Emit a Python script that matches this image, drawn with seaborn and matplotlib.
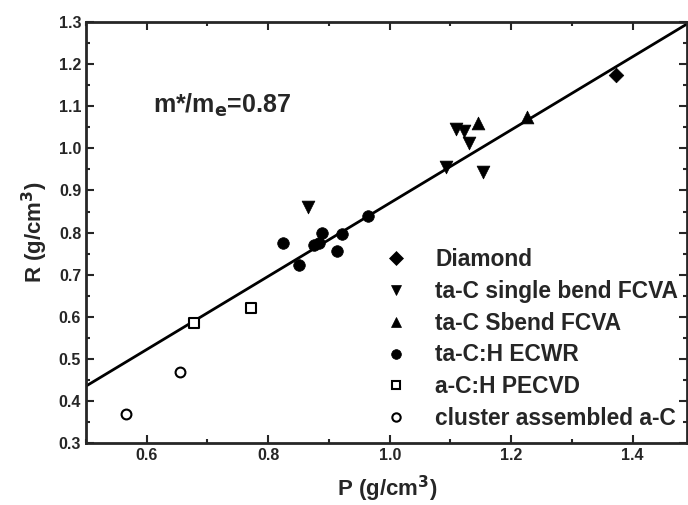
import matplotlib
matplotlib.use("Agg")
import matplotlib.pyplot as plt
from matplotlib.lines import Line2D
from matplotlib.ticker import MultipleLocator
import seaborn as sns
import pandas as pd

# data
diamond_p = [1.373]
diamond_r = [1.174]

single_bend_p = [0.866, 1.092, 1.109, 1.122, 1.130, 1.153]
single_bend_r = [0.861, 0.956, 1.046, 1.041, 1.013, 0.944]

sbend_p = [1.145, 1.226]
sbend_r = [1.060, 1.074]

ecwr_p = [0.825, 0.850, 0.875, 0.883, 0.888, 0.914, 0.922, 0.965]
ecwr_r = [0.775, 0.723, 0.770, 0.775, 0.799, 0.756, 0.796, 0.839]

pecvd_p = [0.677, 0.772]
pecvd_r = [0.585, 0.621]

cluster_p = [0.566, 0.655]
cluster_r = [0.369, 0.469]

# fitted line R = 0.87 P
fit_p = [0.5, 1.5]
fit_r = [0.435, 1.305]

groups = [
    ("Diamond", diamond_p, diamond_r, "D", True, 55),
    ("ta-C single bend FCVA", single_bend_p, single_bend_r, "v", True, 85),
    ("ta-C Sbend FCVA", sbend_p, sbend_r, "^", True, 85),
    ("ta-C:H ECWR", ecwr_p, ecwr_r, "o", True, 70),
    ("a-C:H PECVD", pecvd_p, pecvd_r, "s", False, 45),
    ("cluster assembled a-C", cluster_p, cluster_r, "o", False, 50),
]

sns.set_style("ticks")
plt.rcParams["font.family"] = ["Liberation Sans", "DejaVu Sans"]
plt.rcParams["font.weight"] = "bold"

fig = plt.figure(figsize=(6.88, 5.05), dpi=100)
ax = fig.add_axes([0.125, 0.123, 0.874, 0.833])

fit_df = pd.DataFrame({"P": fit_p, "R": fit_r})
sns.lineplot(data=fit_df, x="P", y="R", color="black", linewidth=2, ax=ax)

handles = []
for name, p, r, marker, filled, size in groups:
    df = pd.DataFrame({"P": p, "R": r})
    if filled:
        sns.scatterplot(data=df, x="P", y="R", marker=marker, s=size,
                        color="black", edgecolor="black", linewidth=0.5, ax=ax, zorder=3)
    else:
        sns.scatterplot(data=df, x="P", y="R", marker=marker, s=size,
                        color="white", edgecolor="black", linewidth=1.5, ax=ax, zorder=3)
    handles.append(Line2D([], [], linestyle="none", marker=marker,
                          markersize=7 if filled else 6,
                          markerfacecolor="black" if filled else "white",
                          markeredgecolor="black",
                          markeredgewidth=0.5 if filled else 1.5,
                          label=name))

ax.set_xlim(0.5, 1.49)
ax.set_ylim(0.3, 1.3)
ax.xaxis.set_major_locator(MultipleLocator(0.2))
ax.xaxis.set_minor_locator(MultipleLocator(0.1))
ax.yaxis.set_major_locator(MultipleLocator(0.1))
ax.yaxis.set_minor_locator(MultipleLocator(0.05))
ax.tick_params(which="both", direction="in", top=True, right=True, width=1.5)
ax.tick_params(which="major", length=6, labelsize=11.5)
ax.tick_params(which="minor", length=3)
for spine in ax.spines.values():
    spine.set_linewidth(2)

ax.set_xlabel("P (g/cm$^\\mathbf{3}$)", fontsize=16, fontweight="bold", labelpad=8)
ax.set_ylabel("R (g/cm$^\\mathbf{3}$)", fontsize=16, fontweight="bold", labelpad=6)

ax.text(0.61, 1.103, "m*/m$_\\mathbf{e}$=0.87", fontsize=18, fontweight="bold",
        va="center", ha="left")

ax.legend(handles=handles, loc="lower left", bbox_to_anchor=(0.543, 0.148),
          bbox_transform=fig.transFigure, frameon=False,
          handletextpad=0.7, labelspacing=0.39, borderpad=0, borderaxespad=0,
          prop={"weight": "bold", "size": 16.4})

fig.savefig("out.png", dpi=100)
